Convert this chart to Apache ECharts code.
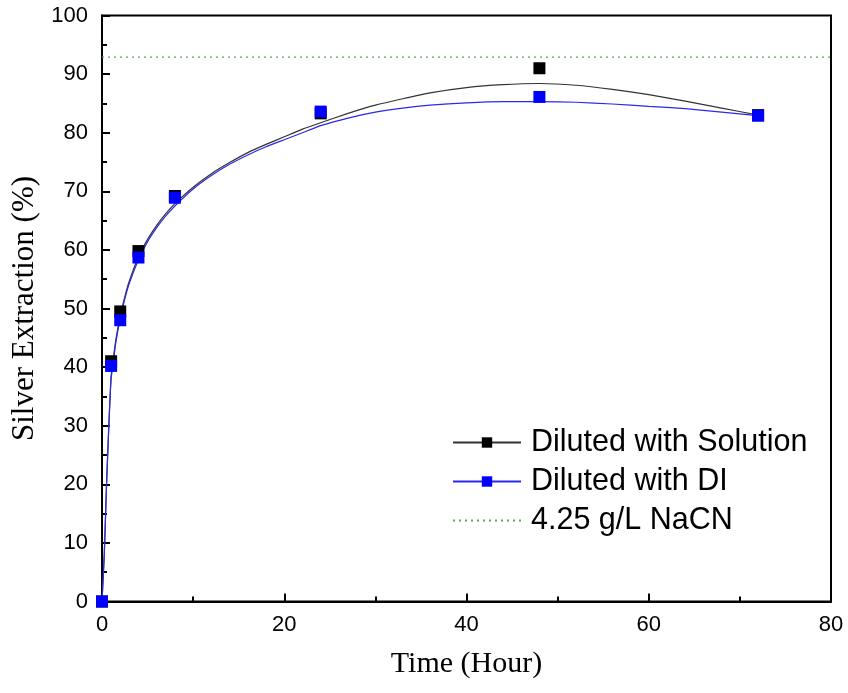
<!DOCTYPE html>
<html>
<head>
<meta charset="utf-8">
<script src="https://cdn.jsdelivr.net/npm/echarts@6/dist/echarts.min.js"></script>
<style>
  html, body { margin: 0; padding: 0; background: #fff; }
  #chart { width: 848px; height: 693px; }
</style>
</head>
<body>
<div id="chart"></div>
<script>
// Measured silver extraction (%) against leaching time (hours)
const timeHours = [0, 1, 2, 4, 8, 24, 48, 72];
const extractionSolution = [0, 41.0, 49.5, 59.8, 69.2, 83.3, 91.0, 83.0];
const extractionDI = [0, 40.2, 48.0, 58.7, 68.9, 83.6, 86.1, 82.9];

// Fitted trend curves
const fitTime = [0, 0.25, 0.5, 0.75, 1, 1.25, 1.5, 2, 2.5, 3, 4, 5, 6, 7, 8, 10, 12, 14, 16, 18, 20, 22, 24, 27, 30, 33, 36, 40, 44, 48, 52, 56, 60, 64, 68, 72];
const fitSolution = [0, 8, 20, 30, 38.5, 41.5, 44.5, 48.8, 52, 54.7, 58.8, 61.8, 64.2, 66.2, 67.9, 70.7, 73.0, 74.9, 76.6, 78.0, 79.3, 80.6, 81.7, 83.3, 84.7, 85.8, 86.8, 87.7, 88.2, 88.4, 88.1, 87.4, 86.5, 85.4, 84.2, 83.0];
const fitDI = [0, 8, 20, 30, 38, 41, 44, 48.3, 51.6, 54.3, 58.3, 61.4, 63.8, 65.8, 67.5, 70.4, 72.7, 74.6, 76.2, 77.6, 78.8, 80.0, 81.2, 82.5, 83.5, 84.2, 84.7, 85.1, 85.3, 85.3, 85.2, 84.9, 84.5, 84.1, 83.5, 82.9];

// Reference level for 4.25 g/L NaCN
const nacnTime = [0, 80];
const nacnLevel = 92.9;

const seriesNames = ['Diluted with Solution', 'Diluted with DI', '4.25 g/L NaCN'];
const xTicks = { min: 0, max: 80, interval: 20 };
const yTicks = { min: 0, max: 100, interval: 10 };

const pairs = (xs, ys) => xs.map((x, i) => [x, ys[i]]);

const chart = echarts.init(document.getElementById('chart'), null, { renderer: 'canvas' });

chart.setOption({
  animation: false,
  backgroundColor: '#ffffff',
  grid: {
    left: 102, right: 17, top: 15.5, bottom: 91.5,
    show: true, borderColor: '#000', borderWidth: 2, backgroundColor: 'transparent'
  },
  xAxis: {
    type: 'value',
    min: xTicks.min, max: xTicks.max, interval: xTicks.interval,
    name: 'Time (Hour)',
    nameLocation: 'middle',
    nameGap: 48,
    nameTextStyle: { fontFamily: 'Liberation Serif', fontSize: 30, color: '#000' },
    axisLine: { show: true, lineStyle: { color: '#000', width: 2 } },
    axisTick: { show: true, inside: true, length: 8, lineStyle: { color: '#000', width: 2 } },
    minorTick: { show: true, splitNumber: 2, length: 5, lineStyle: { color: '#000', width: 2 } },
    axisLabel: { fontFamily: 'Liberation Sans Narrow, Liberation Sans', fontSize: 22, color: '#000', margin: 12 },
    splitLine: { show: false }
  },
  yAxis: {
    type: 'value',
    min: yTicks.min, max: yTicks.max, interval: yTicks.interval,
    name: 'Silver Extraction (%)',
    nameLocation: 'middle',
    nameGap: 55,
    nameTextStyle: { fontFamily: 'Liberation Serif', fontSize: 31, color: '#000' },
    axisLine: { show: true, lineStyle: { color: '#000', width: 2 } },
    axisTick: { show: true, inside: true, length: 8, lineStyle: { color: '#000', width: 2 } },
    minorTick: { show: true, splitNumber: 2, length: 5, lineStyle: { color: '#000', width: 2 } },
    axisLabel: { fontFamily: 'Liberation Sans', fontSize: 22, color: '#000', margin: 14 },
    splitLine: { show: false }
  },
  legend: {
    data: [
      { name: seriesNames[0] },
      { name: seriesNames[1] },
      { name: seriesNames[2], itemStyle: { color: 'rgba(0,0,0,0)', borderColor: 'rgba(0,0,0,0)', borderWidth: 0 } }
    ],
    orient: 'vertical',
    left: 452, top: 427,
    padding: 0,
    itemWidth: 68, itemHeight: 13, itemGap: 8,
    textStyle: { fontFamily: 'Liberation Sans', fontSize: 30.5, color: '#000', padding: [0, 0, 0, 5] },
    selectedMode: false
  },
  series: [
    {
      name: seriesNames[0], type: 'line', data: pairs(fitTime, fitSolution),
      smooth: 0.15,
      symbol: 'rect', showSymbol: false, symbolSize: 10,
      itemStyle: { color: '#000' },
      lineStyle: { color: '#333', width: 1.2 }, z: 2
    },
    {
      name: seriesNames[1], type: 'line', data: pairs(fitTime, fitDI),
      smooth: 0.15,
      symbol: 'rect', showSymbol: false, symbolSize: 10,
      itemStyle: { color: '#0000ff' },
      lineStyle: { color: '#2a2ae8', width: 1.2 }, z: 2
    },
    {
      name: seriesNames[2], type: 'line', data: pairs(nacnTime, nacnTime.map(() => nacnLevel)),
      symbol: 'none',
      itemStyle: { color: '#5fa55f' },
      lineStyle: { color: '#5fa55f', width: 1.3, type: [2, 4] }, z: 1
    },
    {
      name: 'solution points', type: 'scatter', data: pairs(timeHours, extractionSolution),
      symbol: 'rect', symbolSize: 12,
      itemStyle: { color: '#000', opacity: 1 }, z: 3
    },
    {
      name: 'DI points', type: 'scatter', data: pairs(timeHours, extractionDI),
      symbol: 'rect', symbolSize: 12,
      itemStyle: { color: '#0000ff', opacity: 1 }, z: 4
    }
  ]
});
</script>
</body>
</html>
